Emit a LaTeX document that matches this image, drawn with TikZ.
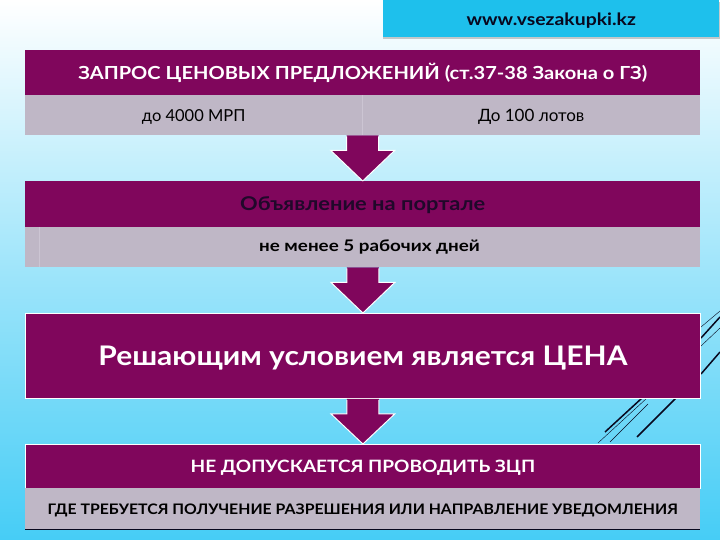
\documentclass[tikz,border=0pt]{standalone}
\usepackage{fontspec}
\setmainfont{Lato}
\usetikzlibrary{calc}
\definecolor{plum}{RGB}{128,6,92}
\definecolor{greyrow}{RGB}{191,183,198}
\definecolor{sky}{RGB}{30,192,236}
\definecolor{rowline}{RGB}{204,197,211}
\definecolor{darkink}{RGB}{8,8,30}
\definecolor{bgend}{RGB}{70,205,246}
\newcommand{\ts}[2]{\fontsize{#1}{#1}\selectfont\addfontfeature{FakeStretch=#2}}
\newcommand{\dn}[2]{\raisebox{-#1pt}[\height][\depth]{#2}}
\tikzset{
 x=1pt,y=-1pt,
 head/.style={fill=plum,anchor=north west,inner sep=0pt,align=center,text=white,font=\bfseries},
 rimmed/.style={head,draw=white,line width=0.8pt},
 sub/.style={fill=greyrow,anchor=north west,inner sep=0pt,align=center,text=black},
 flow/.style={fill=plum,draw=none},
 rim/.style={draw=white,line width=1pt,line join=miter},
 stripe/.style={draw=darkink,line width=1.5pt},
 thin stripe/.style={draw=darkink,line width=0.4pt},
}
\newcommand{\boxat}[6]{\node[#1,minimum width=#4pt,minimum height=#5pt] (#2) at (#3) {#6};}
\newcommand{\flowarrow}[2]{%
 \fill[flow] ($(#1)+(-16,0)$) -- ($(#1)+(16,0)$) -- ($(#1)+(16,15)$) -- ($(#1)+(32,15)$) -- (#2.north) -- ($(#1)+(-32,15)$) -- ($(#1)+(-16,15)$) -- cycle;
 \draw[rim] ($(#1)+(16,1)$) -- ($(#1)+(16,15)$) -- ($(#1)+(32,15)$) -- (#2.north);
 \draw[rim] ($(#1)+(-16,1)$) -- ($(#1)+(-16,15)$) -- ($(#1)+(-32,15)$) -- (#2.north);
}
\begin{document}
\begin{tikzpicture}
\useasboundingbox (0,0) rectangle (720,540);
\shade[shading angle=155,top color=white,bottom color=bgend,middle color=bgend!52] (0,0) rectangle (720,540);

% diagonal stripes behind the panel
\draw[stripe] (605,432) -- (642,398);
\draw[stripe] (637,437) -- (676,398);
\draw[stripe] (701,374) -- (720,352);
\draw[stripe] (701,338) -- (720,317);
\draw[thin stripe] (598,443) -- (647,398) (610,442) -- (648,404);
\draw[thin stripe] (701,327) -- (720,311) (701,346) -- (720,328);

% site label
\fill[black!45,opacity=.45] (383,2) rectangle (720,39);
\node[fill=sky,anchor=north west,inner sep=0pt,minimum width=336pt,minimum height=37pt,font=\bfseries,text=darkink] (site) at (383,0) {\dn{1.5}{\ts{17}{1.14}www.vsezakupki.kz}};

% block 1
\boxat{head}{t1}{25,50}{675}{45}{\ts{18}{1.115}ЗАПРОС ЦЕНОВЫХ ПРЕДЛОЖЕНИЙ (ст.37-38 Закона о ГЗ)}
\boxat{sub}{s1a}{25,95}{337}{40}{\dn{1.5}{\ts{16.5}{1}до 4000 МРП}}
\boxat{sub}{s1b}{362,95}{338}{40}{\dn{1.5}{\ts{17}{1}До 100 лотов}}
\draw[rowline,line width=.7pt] (s1a.north east) -- (s1a.south east);

% block 2
\boxat{head}{t2}{25,181}{675}{46}{\dn{1}{\textcolor{darkink!80!plum}{\ts{19}{1.15}Объявление на портале}}}
\boxat{sub}{s2a}{25,227}{14}{40}{}
\boxat{sub}{s2b}{39,227}{661}{40}{}
\node[text=black,font=\bfseries,inner sep=0pt] (s2t) at (369.5,247) {\ts{16}{1.175}не менее 5 рабочих дней};
\draw[rowline,line width=.7pt] (s2a.north east) -- (s2a.south east);

% block 3
\boxat{rimmed}{t3}{25,313}{675}{85}{\dn{2.5}{\ts{27}{1.11}Решающим условием является ЦЕНА}}

% block 4
\boxat{rimmed}{t4}{25,444}{675}{44}{\dn{1.5}{\ts{17}{1.12}НЕ ДОПУСКАЕТСЯ ПРОВОДИТЬ ЗЦП}}
\boxat{sub}{s4}{25,488}{675}{41}{\dn{1.5}{\bfseries\ts{14.5}{1.09}ГДЕ ТРЕБУЕТСЯ ПОЛУЧЕНИЕ РАЗРЕШЕНИЯ ИЛИ НАПРАВЛЕНИЕ УВЕДОМЛЕНИЯ}}
\draw[darkink,line width=.6pt] (s4.south west) -- (s4.south east);

% arrows
\coordinate (a1) at (t2.north |- s1a.south);
\coordinate (a2) at (t3.north |- s2b.south);
\coordinate (a3) at (t4.north |- t3.south);
\flowarrow{a1}{t2}
\flowarrow{a2}{t3}
\flowarrow{a3}{t4}
\end{tikzpicture}
\end{document}
